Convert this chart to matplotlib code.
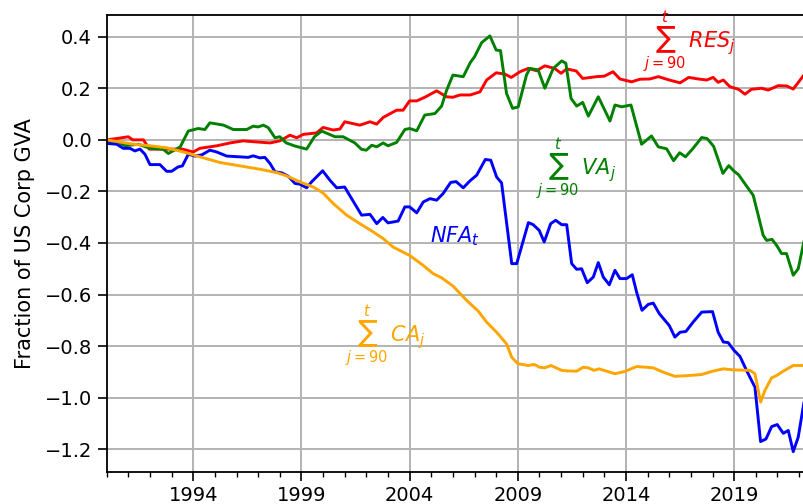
import matplotlib
matplotlib.use("Agg")
import matplotlib.pyplot as plt
from matplotlib.ticker import MultipleLocator

#
# -1- Cumulated flows since 1990 as a fraction of US corporate GVA
#     (dates in decimal years)
#

res_t = [1990.0, 1990.46, 1991.0, 1991.2, 1991.7, 1991.97, 1992.77, 1993.5, 1994.0, 1994.3,
         1995.1, 1995.7, 1996.3, 1996.9, 1997.55, 1998.0, 1998.47, 1998.78, 1999.08, 1999.7,
         2000.0, 2000.47, 2000.78, 2001.0, 2001.7, 2002.17, 2002.48, 2002.78, 2003.4, 2003.7,
         2004.0, 2004.33, 2004.7, 2005.25, 2005.7, 2006.0, 2006.33, 2006.8, 2007.25, 2007.56,
         2008.0, 2008.4, 2008.7, 2009.1, 2009.48, 2009.87, 2010.25, 2010.7, 2011.0, 2011.26,
         2011.7, 2012.0, 2012.64, 2013.0, 2013.4, 2013.72, 2014.26, 2014.64, 2015.1, 2015.5,
         2016.0, 2016.5, 2016.9, 2017.34, 2017.73, 2018.03, 2018.26, 2018.5, 2018.8, 2019.2,
         2019.5, 2019.8, 2020.27, 2020.57, 2021.03, 2021.42, 2021.73, 2022.22]
res = [0.0, 0.005, 0.012, 0.0, 0.0, -0.036, -0.036, -0.036, -0.047, -0.033,
       -0.023, -0.012, -0.004, -0.008, -0.012, -0.004, 0.018, 0.008, 0.021, 0.027,
       0.048, 0.038, 0.042, 0.07, 0.057, 0.07, 0.061, 0.087, 0.115, 0.115,
       0.151, 0.151, 0.165, 0.19, 0.167, 0.165, 0.174, 0.174, 0.186, 0.232,
       0.26, 0.255, 0.242, 0.264, 0.277, 0.268, 0.287, 0.277, 0.258, 0.275,
       0.267, 0.238, 0.245, 0.247, 0.264, 0.236, 0.225, 0.235, 0.236, 0.245,
       0.232, 0.221, 0.242, 0.236, 0.232, 0.242, 0.223, 0.232, 0.206, 0.196,
       0.177, 0.196, 0.2, 0.193, 0.21, 0.209, 0.197, 0.251]

va_t = [1990.0, 1990.6, 1990.85, 1991.46, 1992.0, 1992.6, 1992.85, 1993.4, 1993.77, 1994.23,
        1994.54, 1994.77, 1995.4, 1995.85, 1996.47, 1996.77, 1997.0, 1997.24, 1997.47, 1997.78,
        1998.0, 1998.3, 1998.7, 1999.24, 1999.6, 1999.94, 2000.3, 2000.55, 2000.93, 2001.47,
        2001.78, 2002.0, 2002.25, 2002.48, 2002.78, 2003.0, 2003.4, 2003.78, 2004.0, 2004.33,
        2004.7, 2005.17, 2005.48, 2005.7, 2006.0, 2006.48, 2006.8, 2007.0, 2007.33, 2007.71,
        2008.0, 2008.2, 2008.48, 2008.76, 2009.02, 2009.4, 2009.56, 2009.94, 2010.25, 2010.64,
        2011.03, 2011.22, 2011.46, 2011.72, 2012.0, 2012.26, 2012.72, 2013.26, 2013.49, 2013.8,
        2014.23, 2014.72, 2015.18, 2015.49, 2015.88, 2016.2, 2016.48, 2016.75, 2017.1, 2017.5,
        2017.75, 2018.05, 2018.48, 2018.75, 2019.0, 2019.2, 2019.57, 2019.88, 2020.11, 2020.34,
        2020.5, 2020.75, 2020.97, 2021.19, 2021.42, 2021.73, 2021.96, 2022.22]
va = [-0.008, -0.012, -0.023, -0.017, -0.033, -0.036, -0.053, -0.027, 0.034, 0.044,
      0.04, 0.066, 0.057, 0.04, 0.04, 0.053, 0.05, 0.057, 0.047, 0.008,
      0.012, -0.012, -0.024, -0.036, 0.012, 0.034, 0.021, 0.012, 0.012, -0.012,
      -0.037, -0.04, -0.021, -0.027, -0.012, -0.023, -0.01, 0.04, 0.044, 0.035,
      0.096, 0.102, 0.131, 0.19, 0.251, 0.245, 0.299, 0.322, 0.377, 0.403,
      0.348, 0.346, 0.18, 0.122, 0.128, 0.251, 0.277, 0.271, 0.2, 0.277,
      0.306, 0.297, 0.161, 0.131, 0.145, 0.092, 0.167, 0.073, 0.135, 0.128,
      0.135, -0.017, 0.015, -0.027, -0.035, -0.081, -0.05, -0.066, -0.033, 0.009,
      0.005, -0.025, -0.13, -0.1, -0.122, -0.135, -0.179, -0.215, -0.292, -0.37,
      -0.39, -0.386, -0.41, -0.441, -0.441, -0.525, -0.5, -0.396]

nfa_t = [1990.0, 1990.46, 1990.77, 1991.08, 1991.3, 1991.54, 1991.77, 1992.0, 1992.46, 1992.77,
         1993.0, 1993.3, 1993.5, 1993.77, 1994.08, 1994.4, 1994.77, 1995.08, 1995.55, 1996.16,
         1996.54, 1996.77, 1997.08, 1997.31, 1997.55, 1997.78, 1998.09, 1998.39, 1998.7, 1998.93,
         1999.24, 1999.47, 1999.98, 2000.32, 2000.63, 2001.0, 2001.32, 2001.78, 2002.17, 2002.48,
         2002.76, 2003.0, 2003.47, 2003.78, 2004.0, 2004.33, 2004.63, 2004.94, 2005.25, 2005.55,
         2005.9, 2006.15, 2006.48, 2006.79, 2007.1, 2007.5, 2007.75, 2008.02, 2008.25, 2008.72,
         2008.95, 2009.49, 2009.71, 2009.99, 2010.22, 2010.52, 2010.75, 2011.03, 2011.26, 2011.49,
         2011.72, 2011.95, 2012.21, 2012.49, 2012.72, 2012.95, 2013.23, 2013.49, 2013.72, 2014.03,
         2014.29, 2014.49, 2014.74, 2015.03, 2015.26, 2015.54, 2016.0, 2016.26, 2016.5, 2016.77,
         2017.1, 2017.5, 2018.0, 2018.26, 2018.5, 2018.72, 2019.0, 2019.27, 2019.57, 2019.96,
         2020.22, 2020.47, 2020.73, 2020.99, 2021.27, 2021.5, 2021.73, 2021.96, 2022.22]
nfa = [-0.014, -0.017, -0.033, -0.033, -0.043, -0.036, -0.056, -0.096, -0.096, -0.122,
       -0.122, -0.105, -0.101, -0.056, -0.063, -0.058, -0.04, -0.047, -0.063, -0.066,
       -0.068, -0.062, -0.07, -0.068, -0.092, -0.124, -0.128, -0.141, -0.169, -0.172,
       -0.186, -0.163, -0.12, -0.157, -0.186, -0.183, -0.228, -0.292, -0.289, -0.325,
       -0.301, -0.322, -0.315, -0.26, -0.26, -0.283, -0.241, -0.228, -0.234, -0.208,
       -0.165, -0.162, -0.186, -0.159, -0.137, -0.076, -0.079, -0.144, -0.167, -0.48,
       -0.48, -0.321, -0.329, -0.351, -0.396, -0.325, -0.312, -0.329, -0.329, -0.48,
       -0.502, -0.5, -0.554, -0.532, -0.476, -0.532, -0.562, -0.506, -0.538, -0.538,
       -0.523, -0.59, -0.661, -0.638, -0.633, -0.674, -0.72, -0.765, -0.746, -0.743,
       -0.707, -0.668, -0.666, -0.746, -0.784, -0.786, -0.817, -0.84, -0.894, -0.959,
       -1.17, -1.16, -1.112, -1.104, -1.138, -1.127, -1.209, -1.153, -1.021]

ca_t = [1990.0, 1991.23, 1992.0, 1992.77, 1993.54, 1994.31, 1995.24, 1996.16, 1997.08, 1997.86,
        1998.32, 1998.93, 1999.55, 2000.0, 2000.47, 2001.09, 2001.7, 2002.32, 2002.78, 2003.24,
        2004.0, 2004.63, 2005.09, 2005.48, 2006.02, 2006.64, 2007.17, 2007.56, 2008.02, 2008.48,
        2008.72, 2009.0, 2009.48, 2009.76, 2010.02, 2010.25, 2010.53, 2011.03, 2011.3, 2011.72,
        2012.02, 2012.26, 2012.52, 2012.76, 2013.1, 2013.49, 2013.95, 2014.49, 2015.26, 2015.72,
        2016.26, 2016.9, 2017.5, 2017.96, 2018.5, 2018.96, 2019.73, 2019.96, 2020.22, 2020.42,
        2020.73, 2020.96, 2021.27, 2021.73, 2022.22]
ca = [0.0, -0.017, -0.023, -0.031, -0.047, -0.066, -0.088, -0.101, -0.114, -0.127,
      -0.14, -0.163, -0.183, -0.206, -0.247, -0.292, -0.325, -0.357, -0.383, -0.416,
      -0.448, -0.487, -0.519, -0.535, -0.568, -0.623, -0.664, -0.707, -0.746, -0.791,
      -0.843, -0.868, -0.875, -0.871, -0.882, -0.884, -0.875, -0.894, -0.896, -0.897,
      -0.882, -0.884, -0.894, -0.888, -0.897, -0.907, -0.898, -0.879, -0.884, -0.901,
      -0.917, -0.914, -0.91, -0.898, -0.888, -0.892, -0.894, -0.907, -1.017, -0.972,
      -0.923, -0.914, -0.897, -0.875, -0.875]

years = [1994, 1999, 2004, 2009, 2014, 2019]
yticks = [-1.2, -1.0, -0.8, -0.6, -0.4, -0.2, 0.0, 0.2, 0.4]

#
# -2- Figure
#

fig = plt.figure(figsize=(8.04, 5.04), dpi=100)
ax = fig.add_axes([0.1327, 0.064, 0.8706, 0.9062])

ax.plot(res_t, res, color='red', lw=2.1)
ax.plot(va_t, va, color='green', lw=2.1)
ax.plot(nfa_t, nfa, color='blue', lw=2.1)
ax.plot(ca_t, ca, color='orange', lw=2.1)

ax.text(2016.95, 0.378, r'$\sum_{j=90}^{t}\,RES_j$', color='red', fontsize=15,
        ha='center', va='center')
ax.text(2011.71, -0.112, r'$\sum_{j=90}^{t}\,VA_j$', color='green', fontsize=15,
        ha='center', va='center')
ax.text(2006.10, -0.374, r'$NFA_t$', color='blue', fontsize=15,
        ha='center', va='center')
ax.text(2002.88, -0.762, r'$\sum_{j=90}^{t}\,CA_j$', color='orange', fontsize=15,
        ha='center', va='center')

ax.set_xlim(1990, 2022.35)
ax.set_ylim(-1.287, 0.484)
ax.set_xticks(years)
ax.set_xticklabels([str(y) for y in years])
ax.xaxis.set_minor_locator(MultipleLocator(1))
ax.set_yticks(yticks)
ax.tick_params(axis='both', which='major', labelsize=14, length=6.5, width=1.2, pad=4)
ax.tick_params(axis='x', which='minor', length=3.8, width=1.0)
ax.grid(True, which='major', color='#b3b3b3', lw=1.4)
for s in ax.spines.values():
  s.set_linewidth(1.3)
ax.set_ylabel('Fraction of US Corp GVA', fontsize=15, labelpad=7)

fig.savefig('out.png', dpi=100)
